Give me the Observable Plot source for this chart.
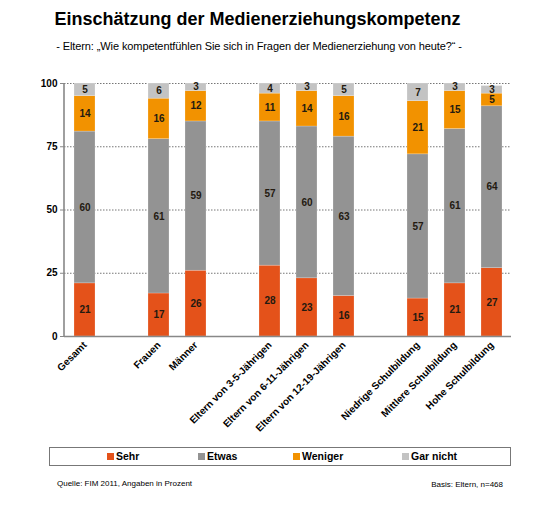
<!DOCTYPE html>
<html>
<head>
<meta charset="utf-8">
<script src="https://cdn.jsdelivr.net/npm/d3@7"></script>
<script src="https://cdn.jsdelivr.net/npm/@observablehq/plot@0.6"></script>
<style>
  html, body { margin: 0; padding: 0; background: #fff; }
  body { font-family: Arial, "Liberation Sans", sans-serif; }
  #wrap { position: relative; width: 559px; height: 523px; overflow: hidden; }
  #chart { position: absolute; left: 0; top: 0; }
  .abs { position: absolute; white-space: nowrap; color: #000; }
  #title { left: 0; width: 515px; top: 9px; text-align: center; font-size: 18px; font-weight: bold; }
  #subtitle { left: 0; width: 518px; top: 40px; text-align: center; font-size: 11px; letter-spacing: -0.1px; }
  #legend { left: 49px; top: 447px; width: 462px; height: 19px; border: 1px solid #777; box-sizing: border-box; }
  .li { position: absolute; top: 2px; font-size: 10.5px; font-weight: bold; line-height: 13px; }
  .sw { display: inline-block; width: 7px; height: 7px; margin-right: 2px; vertical-align: 0px; }
  #quelle { left: 57px; top: 479px; font-size: 8px; }
  #basis { right: 56px; top: 480px; font-size: 8px; }
  svg [aria-label="x-axis tick label"] text, svg [aria-label="y-axis tick label"] text { font-weight: bold; }
</style>
</head>
<body>
<div id="wrap">
  <div id="chart"></div>
  <div class="abs" id="title"></div>
  <div class="abs" id="subtitle"></div>
  <div class="abs" id="legend"></div>
  <div class="abs" id="quelle"></div>
  <div class="abs" id="basis"></div>
</div>
<script>
// ---- data ----
const titleText = "Einschätzung der Medienerziehungskompetenz";
const subtitleText = "- Eltern: „Wie kompetentfühlen Sie sich in Fragen der Medienerziehung von heute?“ -";
const sourceText = "Quelle: FIM 2011, Angaben in Prozent";
const baseText = "Basis: Eltern, n=468";

const categories = ["Gesamt", "Frauen", "Männer", "Eltern von 3-5-Jährigen", "Eltern von 6-11-Jährigen", "Eltern von 12-19-Jährigen", "Niedrige Schulbildung", "Mittlere Schulbildung", "Hohe Schulbildung"];
// slot order on the x axis, with empty gap slots between groups
const slots = ["Gesamt", "gap1", "Frauen", "Männer", "gap2", "Eltern von 3-5-Jährigen", "Eltern von 6-11-Jährigen", "Eltern von 12-19-Jährigen", "gap3", "Niedrige Schulbildung", "Mittlere Schulbildung", "Hohe Schulbildung"];

const series = ["Sehr", "Etwas", "Weniger", "Gar nicht"];
const colors = ["#E4521A", "#939393", "#F29200", "#C3C3C3"];

const sehr     = [21, 17, 26, 28, 23, 16, 15, 21, 27];
const etwas    = [60, 61, 59, 57, 60, 63, 57, 61, 64];
const weniger  = [14, 16, 12, 11, 14, 16, 21, 15, 5];
const garNicht = [5, 6, 3, 4, 3, 5, 7, 3, 3];

const yTicks = [0, 25, 50, 75, 100];
const gridTicks = [25, 50, 75, 100];

// ---- build table ----
const valuesBySeries = [sehr, etwas, weniger, garNicht];
const data = [];
series.forEach((s, si) => {
  categories.forEach((c, ci) => {
    data.push({cat: c, series: s, value: valuesBySeries[si][ci]});
  });
});

const W = 559, H = 523;
const mL = 64, mR = 48, mT = 83, mB = 187;

const plot = Plot.plot({
  width: W,
  height: H,
  marginLeft: mL,
  marginRight: mR,
  marginTop: mT,
  marginBottom: mB,
  style: {fontFamily: "Arial, 'Liberation Sans', sans-serif", fontSize: "10px", background: "transparent", color: "#000"},
  x: {domain: slots, paddingInner: 0.44, paddingOuter: 0.24, label: null},
  y: {domain: [0, 100], label: null},
  color: {domain: series, range: colors},
  marks: [
    Plot.ruleY(gridTicks, {stroke: "#666", strokeWidth: 0.9, strokeDasharray: "1.5,1.5"}),
    Plot.barY(data, {x: "cat", y: "value", fill: "series", order: series, stroke: "#fff", strokeOpacity: 0.35, strokeWidth: 0.6}),
    Plot.text(data, Plot.stackY({x: "cat", y: "value", z: "series", order: series, text: "value", fill: "#231a10", fontWeight: "bold", fontSize: 10})),
    Plot.ruleY([0], {stroke: "#888", strokeWidth: 1.6}),
    Plot.axisY({ticks: yTicks, tickSize: 4, tickPadding: 3, stroke: "#888", fontSize: 10, fill: "#000"}),
    Plot.axisX({ticks: categories, tickRotate: -45, tickSize: 0, tickPadding: 7, fontSize: 10, fill: "#000"})
  ]
});

document.getElementById("chart").appendChild(plot);

// y axis line
const ys = plot.scale("y");
d3.select(plot).append("line")
  .attr("x1", mL).attr("x2", mL)
  .attr("y1", ys.apply(0)).attr("y2", ys.apply(100))
  .attr("stroke", "#888").attr("stroke-width", 1.6);

document.getElementById("title").textContent = titleText;
document.getElementById("subtitle").textContent = subtitleText;
document.getElementById("quelle").textContent = sourceText;
document.getElementById("basis").textContent = baseText;

// legend
const legendX = [57, 148, 243, 352];
const legend = document.getElementById("legend");
series.forEach((s, i) => {
  const item = document.createElement("div");
  item.className = "li";
  item.style.left = legendX[i] + "px";
  const sw = document.createElement("span");
  sw.className = "sw";
  sw.style.background = colors[i];
  item.appendChild(sw);
  item.appendChild(document.createTextNode(s));
  legend.appendChild(item);
});
</script>
</body>
</html>
